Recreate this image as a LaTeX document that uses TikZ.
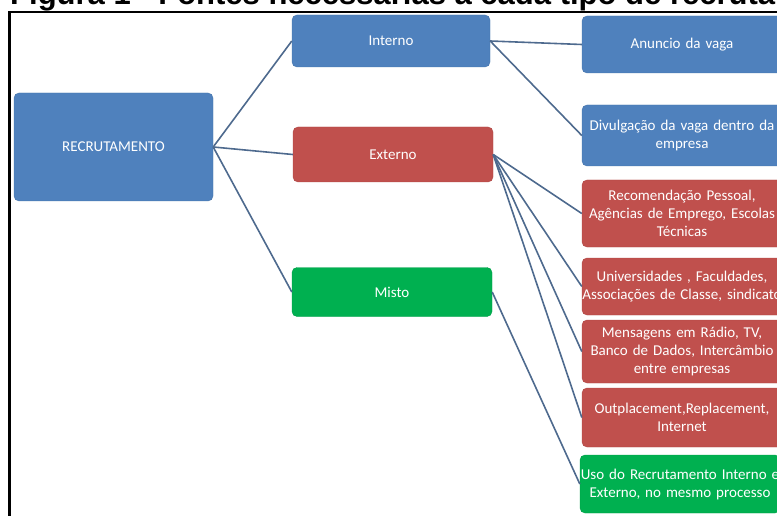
\documentclass[tikz,border=0pt]{standalone}
\usepackage{fontspec}
\setmainfont{Carlito}
\newfontfamily\titlefont{Liberation Sans}
\usepackage{tikz}
\usetikzlibrary{positioning}

\definecolor{boxblue}{RGB}{79,129,189}
\definecolor{boxred}{RGB}{192,80,77}
\definecolor{boxgreen}{RGB}{0,176,80}
\definecolor{linkblue}{RGB}{78,106,142}

\begin{document}
\begin{tikzpicture}[
    x=1pt, y=-1pt,
    box/.style={rectangle, rounded corners=5pt, inner sep=0pt, text=white, align=center, font=\fontsize{15}{18}\selectfont},
    bluebox/.style={box, fill=boxblue, draw=boxblue!90!black},
    redbox/.style={box, fill=boxred, draw=boxred!90!black},
    greenbox/.style={box, fill=boxgreen, draw=boxgreen!90!black},
    fonte/.style={minimum width=200pt, text width=200pt},
    link/.style={draw=linkblue, line width=1.6pt}
]
    \useasboundingbox (0,0) rectangle (777,516);
    \clip (0,0) rectangle (777,516);

    % Title (cut off at the top of the picture) and frame
    \node[anchor=base west, inner sep=0pt, font=\titlefont\bfseries\fontsize{31}{32}\selectfont] (title) at (10,5) {Figura 1 - Fontes necessárias a cada tipo de recrutamento};
    \draw[line width=2.5pt] (9.5,520) -- (9.5,12) -- (790,12);

    % Root
    \node[bluebox, minimum width=199pt, minimum height=108pt] (recr) at (113.5,147) {RECRUTAMENTO};

    % Tipos de recrutamento
    \node[bluebox, minimum width=198pt, minimum height=52pt] (interno) at (391,41) {Interno};
    \node[redbox, minimum width=200pt, minimum height=55pt] (externo) at (393,154.5) {Externo};
    \node[greenbox, minimum width=200pt, minimum height=49pt] (misto) at (392,292) {Misto};

    % Fontes
    \node[bluebox, fonte, minimum height=57pt] (anuncio) at (682,44.5) {Anuncio da vaga};
    \node[bluebox, fonte, minimum height=61pt] (divulg) at (682,135.5) {Divulgação da vaga dentro da\\empresa};
    \node[redbox, fonte, minimum height=67pt] (recom) at (682,213.5) {Recomendação Pessoal,\\Agências de Emprego, Escolas\\Técnicas};
    \node[redbox, fonte, minimum height=57pt] (univ) at (682,286.5) {Universidades , Faculdades,\\Associações de Classe, sindicato};
    \node[redbox, fonte, minimum height=63pt] (mens) at (682,351.5) {Mensagens em Rádio, TV,\\Banco de Dados, Intercâmbio\\entre empresas};
    \node[redbox, fonte, minimum height=59pt] (outpl) at (682,417.5) {Outplacement,Replacement,\\Internet};
    \node[greenbox, fonte, minimum height=58pt] (uso) at (680,484) {Uso do Recrutamento Interno e\\Externo, no mesmo processo};

    \draw[link] (recr.east) -- (interno.west);
    \draw[link] (recr.east) -- (externo.west);
    \draw[link] (recr.east) -- (misto.west);

    \draw[link] (interno.east) -- (anuncio.west);
    \draw[link] (interno.east) -- (divulg.west);

    \foreach \f in {recom, univ, mens, outpl}
        \draw[link] (externo.east) -- (\f.west);

    \draw[link] (misto.east) -- (uso.west);

\end{tikzpicture}
\end{document}
